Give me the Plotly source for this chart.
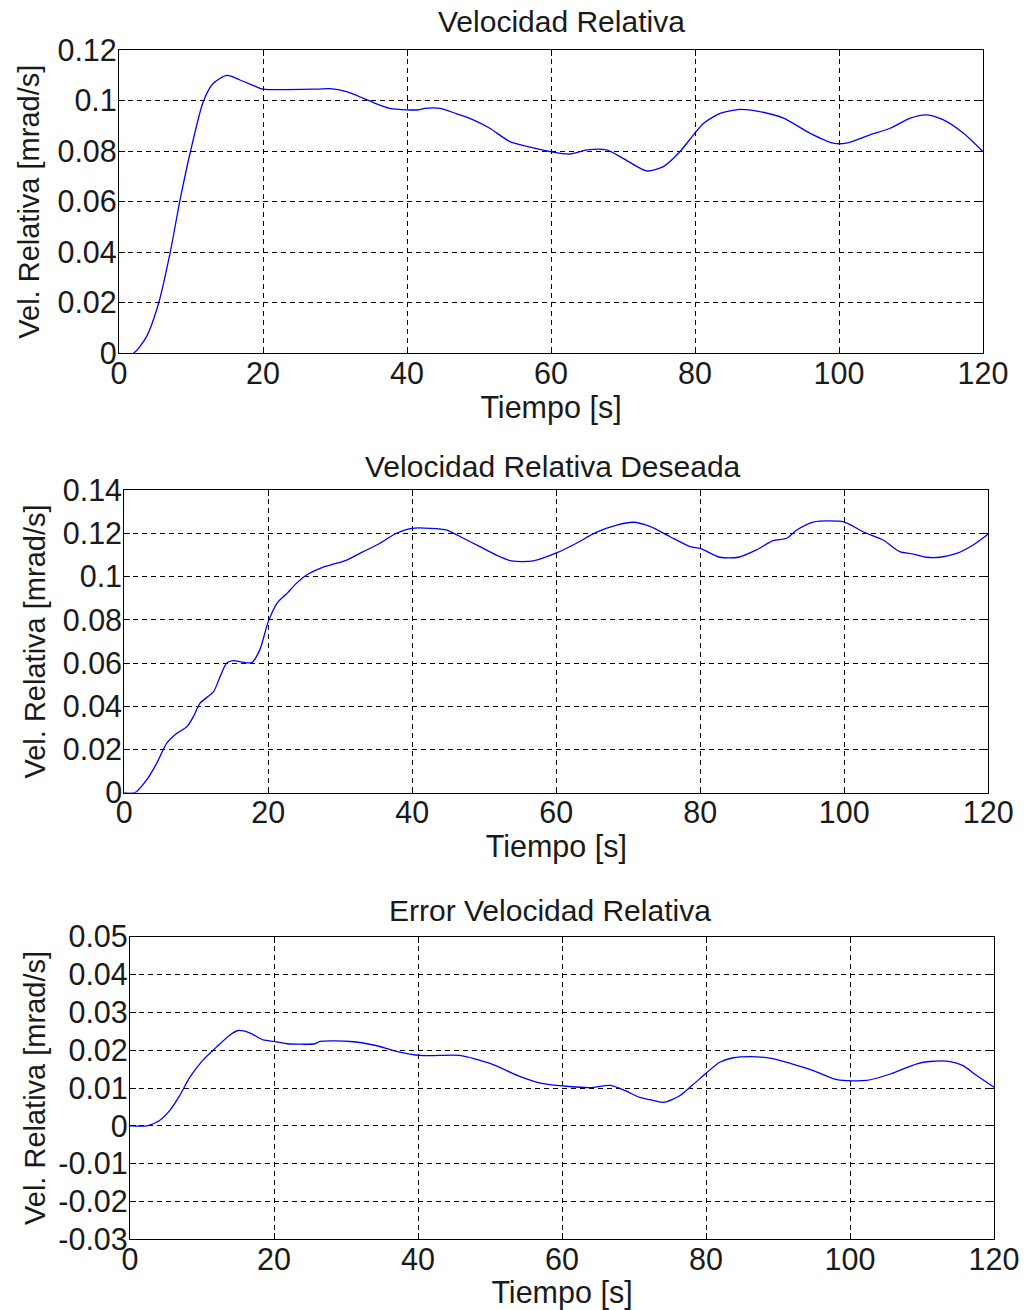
import plotly.graph_objects as go

# ---------------- data ----------------
t_vel = [0, 2, 3.8, 5.5, 7.1, 8.5, 9.9, 11.7, 13.1, 15.0, 16.8, 18.7, 20, 27.5, 29.3,
         31.6, 33.9, 35.3, 37.6, 40, 41.6, 42.5, 44.6, 46.9, 49.2, 51.5, 54.3, 57.1,
         60, 62.6, 65, 67.7, 70, 73.3, 75.6, 77.9, 79.8, 81.2, 83.5, 86.3, 89, 92.3,
         96, 99.2, 101, 104.3, 107.1, 109.9, 112.2, 114.5, 117.3, 120]
v_vel = [0, 0, 0.0065, 0.0198, 0.0398, 0.061, 0.0796, 0.0996, 0.1069, 0.110, 0.1082,
         0.106, 0.1046, 0.1046, 0.1048, 0.1036, 0.101, 0.0993, 0.097, 0.0964, 0.0964,
         0.097, 0.097, 0.0948, 0.0924, 0.0891, 0.0838, 0.0816, 0.0798, 0.0789, 0.0805,
         0.0805, 0.0772, 0.0722, 0.0739, 0.0798, 0.0865, 0.0911, 0.095, 0.0966, 0.0957,
         0.0931, 0.0871, 0.0832, 0.0832, 0.0865, 0.0891, 0.0931, 0.0944, 0.0924,
         0.0871, 0.0798]

t_des = [0, 1.5, 3.1, 4.5, 5.9, 7.3, 8.7, 9.6, 10.5, 12.4, 13.3, 14.2, 15.1, 16, 17.7,
         18.8, 20, 21.2, 22.6, 23.9, 25.3, 27.2, 28.6, 30.9, 33.2, 35.5, 37.8, 39.9,
         42.5, 44.8, 47.1, 49.4, 51.7, 53.8, 56.8, 60.1, 62.8, 65.6, 68.4, 70.7, 73,
         75.8, 78.6, 80, 82.7, 85.3, 87.8, 90.1, 92, 93.4, 95.7, 100, 102.6, 105.4,
         107.7, 109.6, 111.4, 113.3, 115.6, 117.9, 120]
v_des = [0, 0, 0.0059, 0.0136, 0.0229, 0.0275, 0.0306, 0.0352, 0.0414, 0.0468, 0.0537,
         0.0599, 0.0611, 0.0607, 0.0602, 0.066, 0.0792, 0.0877, 0.0923, 0.0969, 0.1008,
         0.1039, 0.1054, 0.1077, 0.1116, 0.1155, 0.1201, 0.1224, 0.1224, 0.1216,
         0.1178, 0.1139, 0.110, 0.1073, 0.1073, 0.1111, 0.1155, 0.1206, 0.1239,
         0.1252, 0.1233, 0.1185, 0.1139, 0.1131, 0.109, 0.109, 0.1124, 0.1167, 0.1178,
         0.1216, 0.1253, 0.1253, 0.1208, 0.117, 0.1116, 0.1105, 0.109, 0.109, 0.1108,
         0.1147, 0.1198]

t_err = [0, 2.4, 4.1, 5.5, 6.9, 8.3, 10.1, 12, 13.8, 15, 16.6, 18.5, 20, 21.8, 25.7,
         26.4, 30.6, 34, 37, 40.3, 43, 45.8, 50, 54.2, 57, 61, 63.9, 66.7, 68.8, 70.8,
         72.2, 74.1, 76.4, 78.2, 80, 81.9, 83.8, 86.1, 88.9, 91.7, 94.9, 98.2, 102.3,
         105.6, 109.3, 111.1, 113.9, 115.7, 117.6, 120]
v_err = [0, 0, 0.0014, 0.004, 0.008, 0.0128, 0.0173, 0.0208, 0.0239, 0.0252, 0.0246,
         0.0227, 0.0223, 0.0217, 0.0217, 0.0223, 0.0223, 0.0213, 0.0197, 0.0186,
         0.0186, 0.0186, 0.0165, 0.013, 0.0113, 0.0104, 0.0101, 0.0107, 0.0093,
         0.0075, 0.0069, 0.0062, 0.008, 0.0109, 0.0139, 0.0168, 0.018, 0.0183, 0.0179,
         0.0165, 0.0146, 0.0122, 0.012, 0.0137, 0.0164, 0.017, 0.017, 0.0159, 0.0133,
         0.0102]

x_ticks = [0, 20, 40, 60, 80, 100, 120]
x_ticktext = ["0", "20", "40", "60", "80", "100", "120"]
y1_ticks = [0, 0.02, 0.04, 0.06, 0.08, 0.1, 0.12]
y1_ticktext = ["0", "0.02", "0.04", "0.06", "0.08", "0.1", "0.12"]
y2_ticks = [0, 0.02, 0.04, 0.06, 0.08, 0.1, 0.12, 0.14]
y2_ticktext = ["0", "0.02", "0.04", "0.06", "0.08", "0.1", "0.12", "0.14"]
y3_ticks = [-0.03, -0.02, -0.01, 0, 0.01, 0.02, 0.03, 0.04, 0.05]
y3_ticktext = ["-0.03", "-0.02", "-0.01", "0", "0.01", "0.02", "0.03", "0.04", "0.05"]

titles = ["Velocidad Relativa", "Velocidad Relativa Deseada", "Error Velocidad Relativa"]
x_title = "Tiempo [s]"
y_title = "Vel. Relativa [mrad/s]"

# ---------------- figure ----------------
W, H = 1029, 1310
FONT = "Liberation Sans, Arial, sans-serif"
FS_TICK = 30.5
FS_XT = 30.5
FS_YT = 29
FS_TITLE = 30
TXT = "#1a1a1a"

fig = go.Figure()
series = [(t_vel, v_vel), (t_des, v_des), (t_err, v_err)]
for i, (tx, vy) in enumerate(series):
    fig.add_trace(go.Scatter(x=tx, y=vy, mode="lines",
                             line=dict(color="#0000ff", width=1.3, shape="spline",
                                       smoothing=0.7),
                             xaxis="x" if i == 0 else f"x{i+1}",
                             yaxis="y" if i == 0 else f"y{i+1}",
                             showlegend=False, hoverinfo="skip"))

# pixel boxes of each plot area (left, right, top, bottom)
boxes = [(119, 983, 50.2, 353.3), (124.3, 988.3, 490.3, 792.7), (130, 994, 936.7, 1239.3)]
yranges = [[0, 0.12], [0, 0.14], [-0.03, 0.05]]
yticks = [(y1_ticks, y1_ticktext), (y2_ticks, y2_ticktext), (y3_ticks, y3_ticktext)]
ystandoff = [9, 8, 4]

common = dict(showline=True, linecolor="black", linewidth=1.2, mirror="ticks",
              ticks="inside", ticklen=6, tickcolor="black", tickwidth=1,
              showgrid=True, gridcolor="black", gridwidth=1, griddash="5px,4px",
              zeroline=False, automargin=False,
              tickfont=dict(family=FONT, size=FS_TICK, color=TXT))

layout = dict(width=W, height=H, margin=dict(l=0, r=0, t=0, b=0),
              paper_bgcolor="white", plot_bgcolor="white", showlegend=False,
              font=dict(family=FONT, size=FS_TICK, color=TXT))
for i, (l, r, tp, bt) in enumerate(boxes):
    xs = "" if i == 0 else str(i + 1)
    layout[f"xaxis{xs}"] = dict(common, domain=[l / W, r / W], range=[0, 120],
                                tickvals=x_ticks, ticktext=x_ticktext,
                                anchor=f"y{xs}", ticklabelstandoff=-7,
                                title=dict(text=x_title, standoff=0,
                                           font=dict(family=FONT, size=FS_XT, color=TXT)))
    layout[f"yaxis{xs}"] = dict(common, domain=[1 - bt / H, 1 - tp / H],
                                range=yranges[i], tickvals=yticks[i][0],
                                ticktext=yticks[i][1], anchor=f"x{xs}",
                                ticklabelstandoff=-5,
                                title=dict(text=y_title, standoff=ystandoff[i],
                                           font=dict(family=FONT, size=FS_YT, color=TXT)))

fig.update_layout(**layout)

title_pos = [(561, 22), (553, 467), (550, 910)]
for txt, (cx, cy) in zip(titles, title_pos):
    fig.add_annotation(text=txt, xref="paper", yref="paper", x=cx / W, y=1 - cy / H,
                       xanchor="center", yanchor="middle", showarrow=False,
                       font=dict(family=FONT, size=FS_TITLE, color=TXT))

fig.write_html("out.html", config={"displayModeBar": False},
               post_script="document.body.style.margin='0';")
